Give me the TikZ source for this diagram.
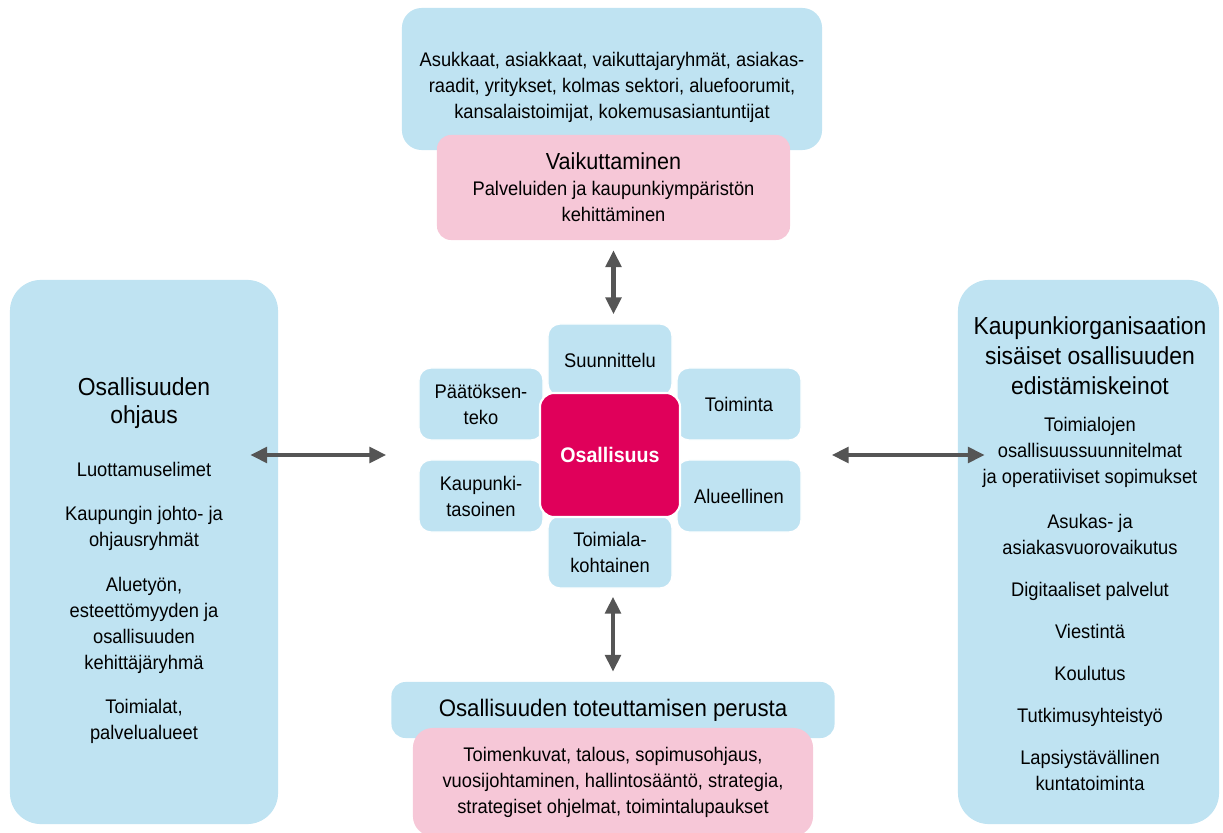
\documentclass[tikz,border=0pt]{standalone}
\usepackage{fontspec}
\setmainfont{Liberation Sans}[FakeStretch=0.93]
\usetikzlibrary{arrows.meta,positioning,calc}

\definecolor{osblue}{HTML}{BFE3F2}
\definecolor{ospink}{HTML}{F6C7D7}
\definecolor{osred}{HTML}{E0005A}
\definecolor{arrowgray}{HTML}{555555}

\newcommand{\bodyfont}{\fontsize{14}{18.5}\selectfont}
\newcommand{\headfont}{\fontsize{17.5}{20}\selectfont}

\tikzset{
  bluebox/.style={fill=osblue, rounded corners=14pt, inner sep=0pt},
  pinkbox/.style={fill=ospink, rounded corners=10pt, inner sep=0pt, align=center, font=\bodyfont},
  boxtext/.style={align=center, font=\bodyfont, inner sep=0pt},
  petal/.style={fill=osblue, draw=white, line width=1pt, rounded corners=8.5pt,
    minimum width=3.1cm, minimum height=1.8cm, inner sep=0pt, align=center, font=\bodyfont},
  core/.style={fill=osred, draw=white, line width=1.5pt, rounded corners=10pt,
    minimum width=3.5cm, minimum height=3.1cm, text=white, font=\fontsize{15}{18}\selectfont\bfseries},
  twoway/.style={{Triangle[length=12pt,width=11pt]}-{Triangle[length=12pt,width=11pt]},
    draw=arrowgray, line width=3pt},
}

\begin{document}
\begin{tikzpicture}[x=0.025cm, y=-0.025cm]
\useasboundingbox (0,0) rectangle (1223,833);

% top
\node[bluebox, minimum width=10.5cm, minimum height=3.55cm] (asuk) at (612,79) {};
\node[boxtext] (asuktxt) at (612,87) {Asukkaat, asiakkaat, vaikuttajaryhmät, asiakas-\\
  raadit, yritykset, kolmas sektori, aluefoorumit,\\
  kansalaistoimijat, kokemusasiantuntijat};
\node[pinkbox, minimum width=8.825cm, minimum height=2.625cm] (vaik) at (613.5,187.5)
  {\fontsize{16.5}{20}\selectfont Vaikuttaminen\\ Palveluiden ja kaupunkiympäristön\\ kehittäminen};

% center
\node[petal] (suun) at (610,360) {Suunnittelu};
\node[petal] (paat) at (481,404) {Päätöksen-\\ teko};
\node[petal] (toim) at (739,404) {Toiminta};
\node[petal] (kaup) at (481,496) {Kaupunki-\\ tasoinen};
\node[petal] (alue) at (739,496) {Alueellinen};
\node[petal] (toimk) at (610,552) {Toimiala-\\ kohtainen};
\node[core] (osal) at (610,455) {Osallisuus};

% bottom
\node[bluebox, rounded corners=10pt, minimum width=11.075cm, minimum height=1.4cm] (perusta) at (613,710)
  {\fontsize{17}{20}\selectfont Osallisuuden toteuttamisen perusta};
\node[pinkbox, rounded corners=14pt, minimum width=10cm, minimum height=2.7cm] (keinot) at (613,782)
  {Toimenkuvat, talous, sopimusohjaus,\\ vuosijohtaminen, hallintosääntö, strategia,\\
   strategiset ohjelmat, toimintalupaukset};

% left
\node[bluebox, rounded corners=22pt, minimum width=6.7cm, minimum height=13.6cm] (ohj) at (144,552) {};
\node[boxtext, anchor=north] (ohjtxt) at (144,377)
  {\headfont Osallisuuden\\[2pt] \headfont ohjaus\\[19pt]
   Luottamuselimet\\[13pt]
   Kaupungin johto- ja\\ ohjausryhmät\\[13pt]
   Aluetyön,\\ esteettömyyden ja\\ osallisuuden\\ kehittäjäryhmä\\[13pt]
   Toimialat,\\ palvelualueet};

% right
\node[bluebox, rounded corners=22pt, minimum width=6.525cm, minimum height=13.6cm] (sis) at (1088.5,552) {};
\node[boxtext, anchor=north] (sistxt) at (1090,316)
  {\headfont Kaupunkiorganisaation\\[3pt] \headfont sisäiset osallisuuden\\[3pt] \headfont edistämiskeinot\\[8pt]
   Toimialojen\\ osallisuussuunnitelmat\\ ja operatiiviset sopimukset\\[13.5pt]
   Asukas- ja\\ asiakasvuorovaikutus\\[11.3pt]
   Digitaaliset palvelut\\[11.3pt]
   Viestintä\\[11.3pt]
   Koulutus\\[11.3pt]
   Tutkimusyhteistyö\\[11.3pt]
   Lapsiystävällinen\\ kuntatoiminta};

% arrows
\draw[twoway, shorten <=0.25cm, shorten >=0.225cm] (vaik.south) -- (vaik.south |- suun.north);
\draw[twoway, shorten <=0.2cm, shorten >=0.25cm] (perusta.north |- toimk.south) -- (perusta.north);
\draw[twoway, shorten <=-0.7cm, shorten >=0.8cm] (ohj.east |- osal) -- (paat.west |- osal);
\draw[twoway, shorten <=0.75cm, shorten >=-0.675cm] (alue.east |- osal) -- (sis.west |- osal);
\end{tikzpicture}
\end{document}
